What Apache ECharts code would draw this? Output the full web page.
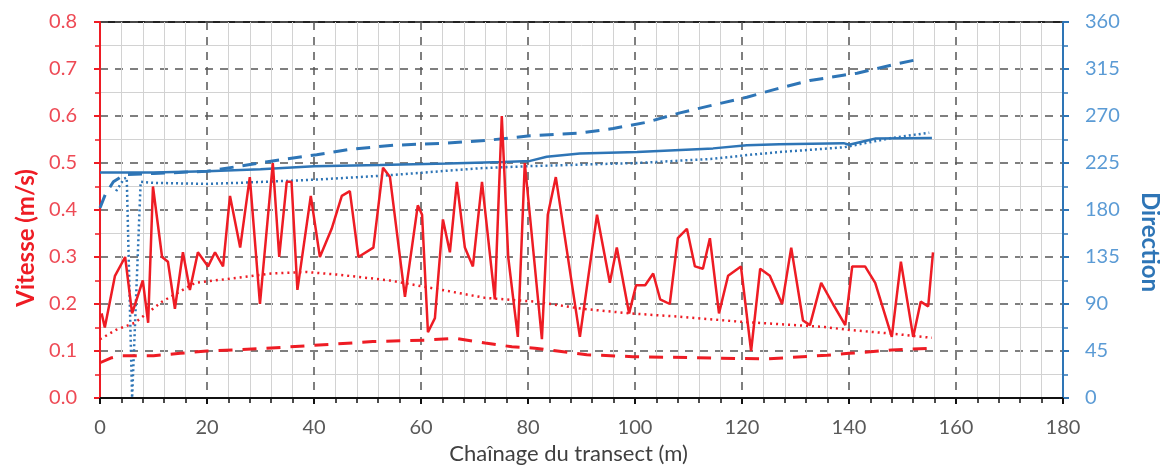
<!DOCTYPE html>
<html>
<head>
<meta charset="utf-8">
<script src="https://cdn.jsdelivr.net/npm/echarts@6/dist/echarts.min.js"></script>
<style>
html,body{margin:0;padding:0;background:#fff;}
#chart{width:1160px;height:472px;}
</style>
</head>
<body>
<div id="chart"></div>
<script>
// ---- Data ----
const xTicks = [0, 20, 40, 60, 80, 100, 120, 140, 160, 180];
const speedTicks = [0.0, 0.1, 0.2, 0.3, 0.4, 0.5, 0.6, 0.7, 0.8];
const dirTicks = [0, 45, 90, 135, 180, 225, 270, 315, 360];

// Vitesse (m/s) - red solid
const speedX = [0.3,0.9,2.8,4.7,6.0,8.0,9.0,9.9,11.6,12.7,14.0,15.5,16.8,18.3,20.2,21.5,23.0,24.3,26.2,28.0,29.9,32.3,33.5,34.9,35.8,36.9,39.4,41.1,43.3,45.2,46.7,48.3,51.1,52.9,54.2,57.0,59.4,60.2,61.3,62.6,64.1,65.4,66.7,68.2,69.7,71.4,73.8,75.1,76.3,78.1,79.4,82.6,83.7,85.2,89.7,92.9,95.3,96.6,98.9,100.2,101.9,103.4,104.7,106.5,108.0,109.7,111.2,112.7,114.0,115.7,117.4,119.8,121.7,123.4,125.2,127.5,129.2,131.4,132.7,134.8,137.0,139.3,140.6,143.0,144.9,148.0,149.7,152.0,153.4,154.8,155.7];
const speedY = [0.18,0.15,0.26,0.30,0.18,0.25,0.16,0.45,0.30,0.29,0.19,0.31,0.23,0.31,0.28,0.31,0.28,0.43,0.32,0.47,0.20,0.50,0.30,0.46,0.46,0.23,0.43,0.30,0.36,0.43,0.44,0.30,0.32,0.49,0.47,0.215,0.41,0.39,0.14,0.17,0.38,0.31,0.46,0.32,0.28,0.46,0.21,0.60,0.30,0.13,0.50,0.125,0.39,0.47,0.13,0.39,0.245,0.32,0.18,0.24,0.24,0.265,0.21,0.20,0.34,0.36,0.28,0.275,0.34,0.18,0.26,0.28,0.10,0.275,0.26,0.20,0.32,0.165,0.155,0.245,0.20,0.155,0.28,0.28,0.245,0.13,0.29,0.13,0.205,0.195,0.31];

// red dotted (trend)
const speedTrendX = [0,3,6.5,11.6,17.8,26.5,32,38.7,44.9,54.2,63.9,72,81.3,90,99,108.4,120,135.5,139.8,148,155.5];
const speedTrendY = [0.125,0.145,0.16,0.205,0.245,0.257,0.265,0.268,0.262,0.25,0.23,0.213,0.205,0.19,0.18,0.173,0.162,0.151,0.145,0.137,0.128];

// red dashed
const speedLowX = [0,2,4,10,15,20,30,40,51,60.7,66.4,72,77,81.3,91,99.6,114.6,124.7,135.9,140,148,155.5];
const speedLowY = [0.075,0.085,0.09,0.09,0.095,0.10,0.105,0.112,0.12,0.123,0.127,0.117,0.109,0.106,0.092,0.088,0.085,0.083,0.091,0.095,0.102,0.106];

// Direction - blue solid
const dirX = [0,10,20,30,40,52.3,65,75.3,80.4,83.5,89.7,100.4,114.6,120.9,127,139,140,145,155.5];
const dirY = [216,216,217,219,222,223,224.5,226,227,231,234,235.5,239,242,243,244,242.5,248.5,249];

// blue dashed
const dirHighX = [0,1,2.5,3.7,5,10,20,31,40.5,46.7,54.8,64.8,72.9,80.4,89.7,95.9,102.2,108.4,114.6,120.9,126.5,132.7,138.9,141.5,148.2,153.6];
const dirHighY = [182,195,207,211,214,215,217,226,233,238,242,244,247,251,253.6,258,264,273,280.5,288,296,304,309,311,319,325];

// blue dotted
const dirLowX = [3,4.5,5,6,6.3,7.6,10,20,26,40,53.3,71,80.4,100.4,114.6,121,127,139,148,155];
const dirLowY = [198,210,211,0,0,207,206,205,206,209,213,220,222,225,229,232.6,235.5,240,249,254];

// ---- build ----
const zip = (xs, ys) => xs.map((x, i) => [x, ys[i]]);
const RED = '#ee1c24';
const BLUE = '#2e75b6';
const FONT = 'Lato';

const chart = echarts.init(document.getElementById('chart'), null, {renderer: 'canvas'});
chart.setOption({
  animation: false,
  backgroundColor: '#ffffff',
  textStyle: {fontFamily: FONT},
  grid: {left: 100, right: 97, top: 22, bottom: 74, outerBoundsMode: 'none', containLabel: false,
         show: true, borderColor: '#222', borderWidth: 2, backgroundColor: 'transparent'},
  xAxis: {
    type: 'value', min: xTicks[0], max: xTicks[xTicks.length - 1], interval: xTicks[1] - xTicks[0],
    name: 'Chaînage du transect (m)', nameLocation: 'middle', nameGap: 43,
    nameTextStyle: {fontSize: 22, color: '#404040', fontFamily: FONT, padding: [0, 26, 0, 0]},
    axisLine: {show: true, onZero: false, lineStyle: {color: '#111', width: 2}},
    axisTick: {show: true, length: 6, lineStyle: {color: '#111', width: 2}},
    minorTick: {show: true, splitNumber: 5, length: 5, lineStyle: {color: '#111', width: 1.5}},
    axisLabel: {fontSize: 20, color: '#595959', margin: 20, fontFamily: FONT},
    splitLine: {show: true, lineStyle: {color: '#555', width: 1.5, type: [8, 7]}},
    minorSplitLine: {show: true, lineStyle: {color: '#d2d2d2', width: 1}}
  },
  yAxis: [
    {
      type: 'value', min: speedTicks[0], max: speedTicks[speedTicks.length - 1], interval: 0.1,
      name: 'Vitesse (m/s)', nameLocation: 'middle', nameGap: 55, nameRotate: 90,
      nameTextStyle: {fontSize: 24, fontWeight: 'bold', color: RED, fontFamily: FONT, padding: [0, 56, 0, 0]},
      axisLine: {show: true, lineStyle: {color: RED, width: 2}},
      axisTick: {show: true, length: 6, lineStyle: {color: RED, width: 2}},
      minorTick: {show: true, splitNumber: 2, length: 5, lineStyle: {color: RED, width: 1.5}},
      axisLabel: {fontSize: 20, color: '#ee4a55', margin: 23, fontFamily: FONT, formatter: v => v.toFixed(1)},
      splitLine: {show: true, lineStyle: {color: '#555', width: 1.5, type: [8, 7]}},
      minorSplitLine: {show: true, lineStyle: {color: '#d2d2d2', width: 1}}
    },
    {
      type: 'value', min: dirTicks[0], max: dirTicks[dirTicks.length - 1], interval: 45, position: 'right',
      name: 'Direction', nameLocation: 'middle', nameGap: 75, nameRotate: -90,
      nameTextStyle: {fontSize: 24, fontWeight: 'bold', color: BLUE, fontFamily: FONT, padding: [0, 0, 0, 64]},
      axisLine: {show: true, lineStyle: {color: BLUE, width: 2}},
      axisTick: {show: true, length: 6, lineStyle: {color: BLUE, width: 2}},
      minorTick: {show: true, splitNumber: 2, length: 5, lineStyle: {color: BLUE, width: 1.5}},
      axisLabel: {fontSize: 20, color: '#5b9bd5', margin: 22, fontFamily: FONT},
      splitLine: {show: false},
      minorSplitLine: {show: false}
    }
  ],
  series: [
    {type: 'line', yAxisIndex: 1, data: zip(dirLowX, dirLowY), showSymbol: false, lineStyle: {color: BLUE, width: 2.5, type: [2, 3]}, z: 3},
    {type: 'line', yAxisIndex: 1, data: zip(dirHighX, dirHighY), showSymbol: false, lineStyle: {color: BLUE, width: 3, type: [14, 9]}, z: 3},
    {type: 'line', yAxisIndex: 1, data: zip(dirX, dirY), showSymbol: false, lineStyle: {color: BLUE, width: 2.5}, z: 4},
    {type: 'line', yAxisIndex: 0, data: zip(speedTrendX, speedTrendY), showSymbol: false, lineStyle: {color: RED, width: 2.5, type: [2, 4]}, z: 5},
    {type: 'line', yAxisIndex: 0, data: zip(speedLowX, speedLowY), showSymbol: false, lineStyle: {color: RED, width: 3, type: [14, 10]}, z: 5},
    {type: 'line', yAxisIndex: 0, data: zip(speedX, speedY), showSymbol: false, lineStyle: {color: RED, width: 2.5}, z: 6}
  ]
});
</script>
</body>
</html>
